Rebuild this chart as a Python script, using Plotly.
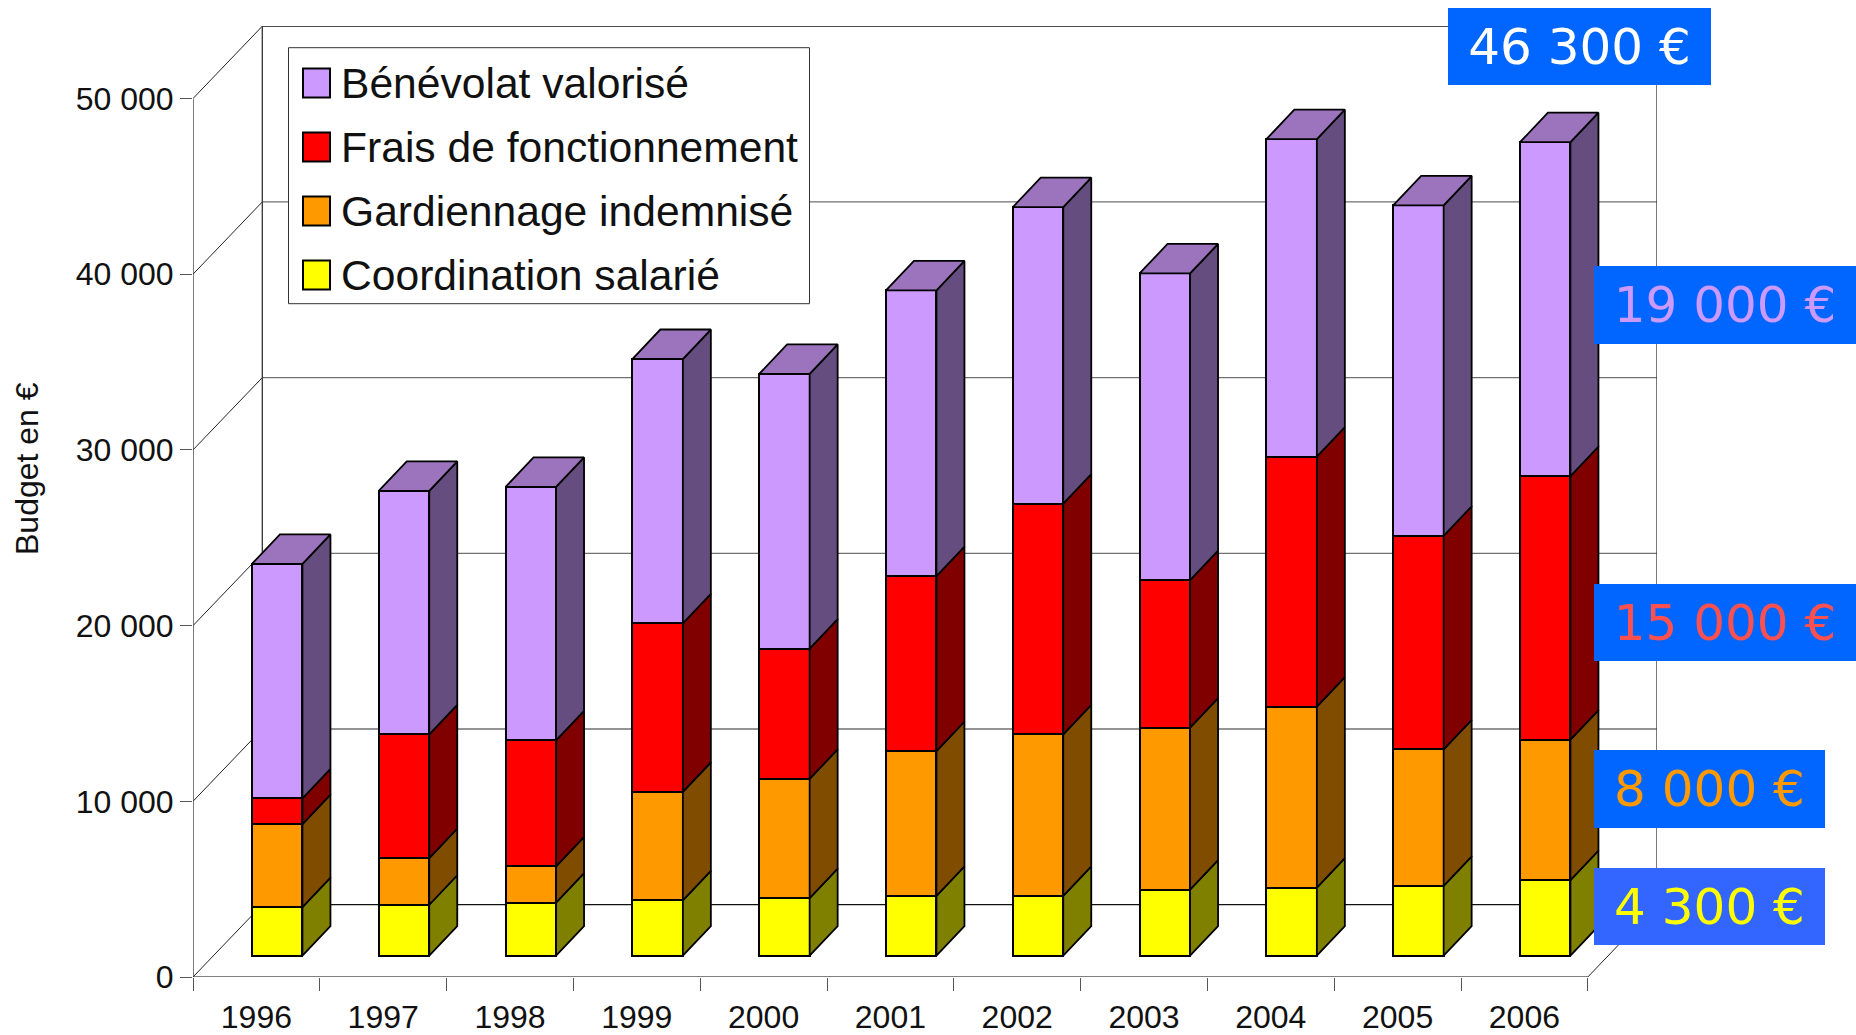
import plotly.graph_objects as go

YEARS = ["1996", "1997", "1998", "1999", "2000", "2001", "2002", "2003", "2004", "2005", "2006"]
COORDINATION = [2770, 2900, 3020, 3150, 3280, 3400, 3400, 3760, 3870, 3980, 4300]
GARDIENNAGE = [4720, 2660, 2070, 6180, 6790, 8250, 9200, 9220, 10300, 7760, 8000]
FRAIS = [1460, 7040, 7170, 9590, 7410, 9950, 13130, 8390, 14230, 12160, 15000]
BENEVOLAT = [13350, 13850, 14420, 15040, 15630, 16270, 16870, 17460, 18070, 18810, 19000]
SERIES_NAMES = ["Coordination salarié", "Gardiennage indemnisé", "Frais de fonctionnement", "Bénévolat valorisé"]
Y_TICKS = [0, 10000, 20000, 30000, 40000, 50000]
Y_TICK_LABELS = ["0", "10 000", "20 000", "30 000", "40 000", "50 000"]
CALLOUTS = ["46 300 €", "19 000 €", "15 000 €", "8 000 €", "4 300 €"]

FRONT = ["#FFFF00", "#FF9900", "#FF0000", "#CC99FF"]
SIDE = ["#808000", "#804D00", "#800000", "#664D80"]
TOP = "#9C74BD"

W, H = 1856, 1035
L, R, T, B = 193, 1657, 26, 977
CAT_PX = 126.8
VAL_PX = 10000 / 175.7
X_MAX = (R - L) / CAT_PX
Y_MAX = (B - T) * VAL_PX
WALL_DX, WALL_DY = 69.3 / CAT_PX, 72.3 * VAL_PX
BAR_W = 50.5 / CAT_PX
BAR_DX = 0.164
FLOOR = 21.3 * VAL_PX
SIDE_DX, SIDE_DY = 28 / CAT_PX, 29.5 * VAL_PX

def px(v):
    return (v - L) / (R - L)

def py(v):
    return (B - v) / (B - T)

fig = go.Figure()
series = [COORDINATION, GARDIENNAGE, FRAIS, BENEVOLAT]
centers = [i + 0.5 + BAR_DX for i in range(len(YEARS))]
bases = [FLOOR] * len(YEARS)

for name, vals, front, side in zip(SERIES_NAMES, series, FRONT, SIDE):
    tops = [b + v for b, v in zip(bases, vals)]
    fig.add_trace(go.Bar(x=centers, y=vals, base=bases, width=BAR_W, name=name,
                         marker=dict(color=front, line=dict(color="black", width=2)),
                         hoverinfo="skip", showlegend=False))
    sx, sy = [], []
    for c, b, t in zip(centers, bases, tops):
        xr = c + BAR_W / 2
        sx += [xr, xr + SIDE_DX, xr + SIDE_DX, xr, xr, None]
        sy += [b, b + SIDE_DY, t + SIDE_DY, t, b, None]
    fig.add_trace(go.Scatter(x=sx, y=sy, mode="lines", fill="toself", fillcolor=side,
                             line=dict(color="black", width=1.8), hoverinfo="skip", showlegend=False))
    bases = tops

tx, ty = [], []
for c, t in zip(centers, bases):
    xl, xr = c - BAR_W / 2, c + BAR_W / 2
    tx += [xl, xr, xr + SIDE_DX, xl + SIDE_DX, xl, None]
    ty += [t, t, t + SIDE_DY, t + SIDE_DY, t, None]
fig.add_trace(go.Scatter(x=tx, y=ty, mode="lines", fill="toself", fillcolor=TOP,
                         line=dict(color="black", width=1.8), hoverinfo="skip", showlegend=False))

shapes = []

def seg(x0, y0, x1, y1, color, width):
    shapes.append(dict(type="line", xref="x", yref="y", x0=x0, y0=y0, x1=x1, y1=y1,
                       layer="below", line=dict(color=color, width=width)))

n = len(YEARS)
for tick in Y_TICKS:
    color = "#111111" if tick in (0, 50000) else "#707070"
    seg(WALL_DX, tick + WALL_DY, X_MAX, tick + WALL_DY, color, 1.3)
    seg(0, tick, WALL_DX, tick + WALL_DY, "#222222", 1)
seg(0, 0, n, 0, "#555555", 1.3)
seg(0, 0, 0, Y_TICKS[-1], "#333333", 1.3)
seg(WALL_DX, WALL_DY, WALL_DX, Y_TICKS[-1] + WALL_DY, "#333333", 1.3)
seg(X_MAX, WALL_DY, X_MAX, Y_TICKS[-1] + WALL_DY, "#333333", 1.3)
seg(n, 0, X_MAX, WALL_DY, "#222222", 1)

# legend (drawn by hand for its large swatches)
shapes.append(dict(type="rect", xref="paper", yref="paper", x0=px(288.5), x1=px(809.5), y0=py(303.7), y1=py(47.7),
                   layer="above", fillcolor="white", line=dict(color="#333333", width=1)))
annotations = []
for k, (name, color) in enumerate(zip(reversed(SERIES_NAMES), reversed(FRONT))):
    mid = 83 + 64 * k
    shapes.append(dict(type="rect", xref="paper", yref="paper", x0=px(303), x1=px(330), y0=py(mid + 14.5), y1=py(mid - 14.5),
                       layer="above", fillcolor=color, line=dict(color="black", width=2)))
    annotations.append(dict(xref="paper", yref="paper", x=px(339), y=py(mid), text=name, showarrow=False,
                            xanchor="left", yanchor="middle",
                            font=dict(family="Liberation Sans", size=42.6, color="#111111")))

annotations.append(dict(xref="paper", yref="paper", x=px(27), y=py(469), text="Budget en €", textangle=-90, showarrow=False,
                        xanchor="center", yanchor="middle", font=dict(family="Liberation Sans", size=32, color="#111111")))

BOXES = [
    (1448, 8, 263, 77, "#0066FF", "#FFFFFF"),
    (1594, 266, 262, 78, "#0066FF", "#CC99FF"),
    (1594, 584, 262, 77, "#0066FF", "#FF5050"),
    (1594, 750, 231, 78, "#0066FF", "#FF9900"),
    (1594, 868, 231, 77, "#3366FF", "#FFFF00"),
]
for text, (x0, y0, w, h, bg, fg) in zip(CALLOUTS, BOXES):
    annotations.append(dict(xref="paper", yref="paper", x=px(x0), y=py(y0), xanchor="left", yanchor="top",
                            width=w, height=h, text=text, showarrow=False, align="center", valign="middle",
                            bgcolor=bg, borderpad=0, borderwidth=0,
                            font=dict(family="DejaVu Sans", size=50, color=fg)))

fig.update_layout(
    width=W, height=H, autosize=False,
    margin=dict(l=L, r=W - R, t=T, b=H - B, pad=0, autoexpand=False),
    paper_bgcolor="white", plot_bgcolor="white",
    barmode="overlay", bargap=0, showlegend=False,
    shapes=shapes, annotations=annotations,
    font=dict(family="Liberation Sans", color="#111111"),
    xaxis=dict(range=[0, X_MAX], automargin=False, showgrid=False, zeroline=False, showline=False,
               tickmode="array", tickvals=[i + 0.5 for i in range(n)], ticktext=YEARS,
               ticks="", ticklabelstandoff=18, tickfont=dict(size=32),
               minor=dict(tickmode="array", tickvals=list(range(n + 1)), ticks="outside",
                          ticklen=13, tickwidth=1.3, tickcolor="#555555", showgrid=False)),
    yaxis=dict(range=[0, Y_MAX], automargin=False, showgrid=False, zeroline=False, showline=False,
               tickmode="array", tickvals=Y_TICKS, ticktext=Y_TICK_LABELS,
               ticks="outside", ticklen=12, tickwidth=1.3, tickcolor="#555555", tickfont=dict(size=32)),
)

fig.write_html("out.html", config=dict(displayModeBar=False),
               post_script="document.body.style.margin='0';document.body.style.overflow='hidden';")
